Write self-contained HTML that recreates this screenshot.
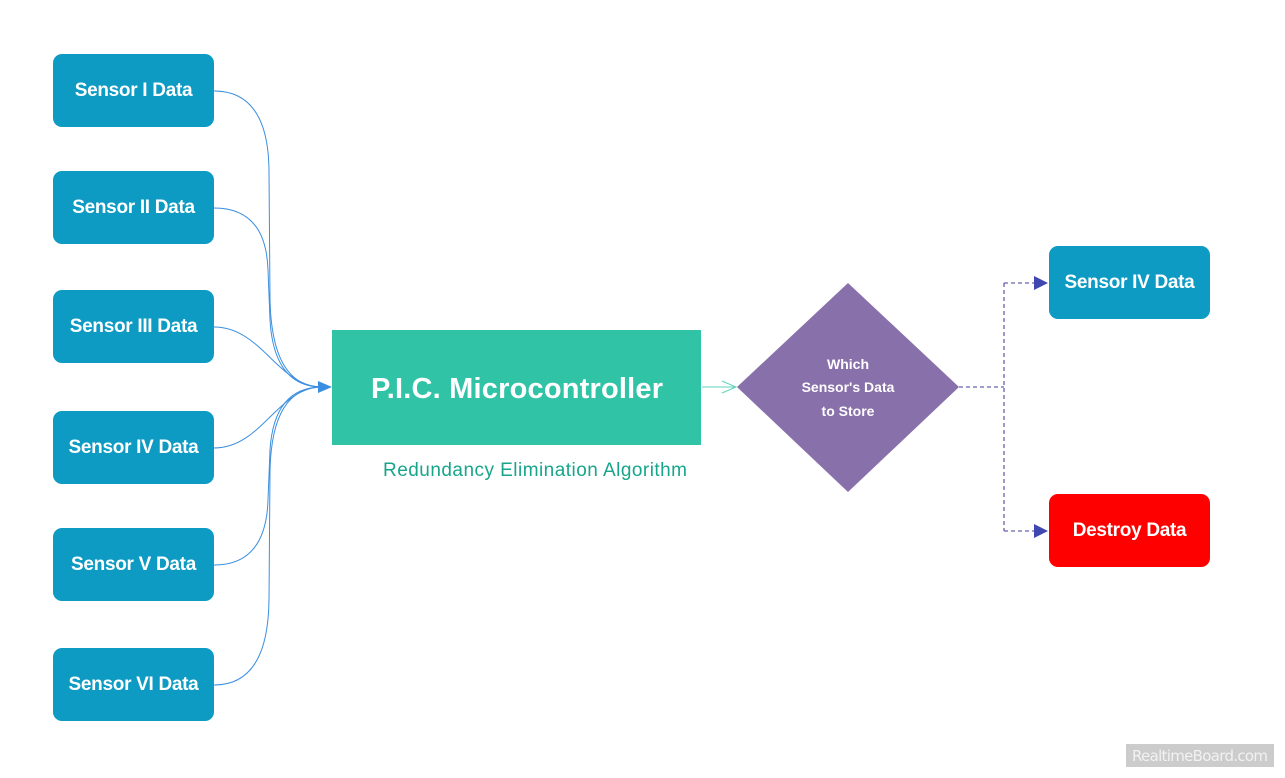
<!DOCTYPE html>
<html><head><style>
body{margin:0;width:1285px;height:778px;background:#fff;position:relative;overflow:hidden;font-family:"Liberation Sans",sans-serif}
.b{position:absolute;left:53px;width:161px;height:73px;background:#0d9bc3;border-radius:9px;color:#fff;font-weight:bold;font-size:19px;letter-spacing:-0.3px;display:flex;align-items:center;justify-content:center;white-space:nowrap}
</style></head><body>
<svg width="1285" height="778" style="position:absolute;left:0;top:0">
<g fill="none" stroke="#3b8fe0" stroke-width="1">
<path d="M214 91 Q268 91 269 170 L270 300 Q272 387 322 387"/>
<path d="M214 208 Q266 208 268 270 L270 320 Q274 387 322 387"/>
<path d="M214 327 C262 327 278 387 322 387"/>
<path d="M214 448 C262 448 278 387 322 387"/>
<path d="M214 565 Q266 565 268 500 L270 450 Q274 387 322 387"/>
<path d="M214 685 Q268 685 269 600 L270 470 Q272 387 322 387"/>
</g>
<polygon points="318,381 332,387 318,393" fill="#3b8fe0"/>
<rect x="332" y="330" width="369" height="115" fill="#31c3a6"/>
<line x1="702" y1="387" x2="735" y2="387" stroke="#5fd1bb" stroke-width="1"/>
<path d="M722 381 L736 387 L722 393" fill="none" stroke="#5fd1bb"/>
<polygon points="848,283 959,387 848,492 737,387" fill="#8870aa"/>
<g fill="none" stroke="#6660b0" stroke-width="1.3" stroke-dasharray="4,3">
<path d="M959 387 H1004 M1004 283 V531 M1004 283 H1036 M1004 531 H1036"/>
</g>
<polygon points="1034,276 1048,283 1034,290" fill="#3f48b0"/>
<polygon points="1034,524 1048,531 1034,538" fill="#3f48b0"/>
<text x="517" y="398" fill="#fff" font-size="29" font-weight="bold" text-anchor="middle" font-family="Liberation Sans" textLength="292">P.I.C. Microcontroller</text>
<text x="535" y="476" fill="#17a58b" font-size="19" text-anchor="middle" font-family="Liberation Sans" textLength="304">Redundancy Elimination Algorithm</text>
<g fill="#fff" font-size="14" font-weight="bold" text-anchor="middle" font-family="Liberation Sans">
<text x="848" y="369">Which</text><text x="848" y="392">Sensor's Data</text><text x="848" y="416">to Store</text>
</g>
<rect x="1126" y="744" width="148" height="23" fill="#cccccc"/>
<text x="1200" y="761" fill="#f2f2f2" font-size="15" text-anchor="middle" font-family="DejaVu Sans" textLength="136">RealtimeBoard.com</text>
</svg>
<div class="b" style="top:54px">Sensor I Data</div>
<div class="b" style="top:171px">Sensor II Data</div>
<div class="b" style="top:290px">Sensor III Data</div>
<div class="b" style="top:411px">Sensor IV Data</div>
<div class="b" style="top:528px">Sensor V Data</div>
<div class="b" style="top:648px">Sensor VI Data</div>
<div class="b" style="left:1049px;top:246px">Sensor IV Data</div>
<div class="b" style="left:1049px;top:494px;background:#fe0000">Destroy Data</div>
</body></html>
